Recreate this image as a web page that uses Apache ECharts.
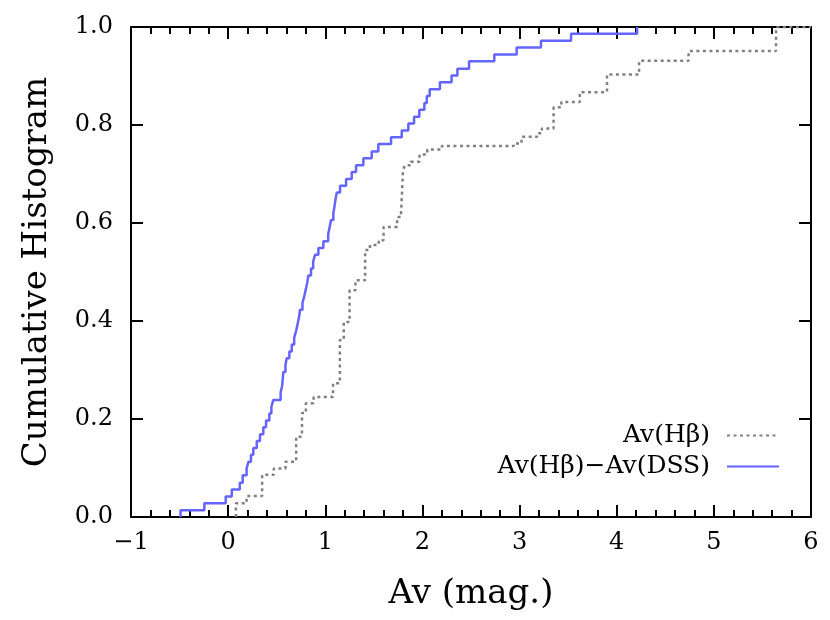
<!DOCTYPE html>
<html>
<head>
<meta charset="utf-8">
<script src="https://cdn.jsdelivr.net/npm/echarts@6/dist/echarts.min.js"></script>
<style>
  html, body { margin: 0; padding: 0; background: #fff; }
  #chart { width: 830px; height: 620px; }
</style>
</head>
<body>
<div id="chart"></div>
<script>
// Av(Hb) - Av(DSS): step positions and cumulative fraction after each step
var blueX = [-0.49, -0.245, -0.025, 0.037, 0.12, 0.15, 0.19, 0.21, 0.235, 0.259,
  0.295, 0.328, 0.362, 0.39, 0.424, 0.445, 0.465, 0.54, 0.556, 0.562,
  0.568, 0.59, 0.603, 0.63, 0.655, 0.68, 0.70, 0.715, 0.73, 0.74,
  0.765, 0.784, 0.80, 0.815, 0.826, 0.853, 0.875, 0.895, 0.929, 0.98,
  1.03, 1.045, 1.059, 1.083, 1.095, 1.105, 1.118, 1.152, 1.214, 1.272,
  1.317, 1.392, 1.478, 1.546, 1.677, 1.787, 1.855, 1.914, 1.968, 2.02,
  2.045, 2.075, 2.18, 2.30, 2.36, 2.48, 2.74, 2.97, 3.22, 3.53, 4.21]
var blueY = [0.014, 0.028, 0.042, 0.056, 0.070, 0.085, 0.099, 0.113, 0.127, 0.141,
  0.155, 0.169, 0.183, 0.197, 0.211, 0.225, 0.239, 0.254, 0.268, 0.282,
  0.296, 0.310, 0.324, 0.338, 0.352, 0.366, 0.380, 0.394, 0.408, 0.423,
  0.437, 0.451, 0.465, 0.479, 0.493, 0.507, 0.521, 0.535, 0.549, 0.563,
  0.577, 0.592, 0.606, 0.620, 0.634, 0.648, 0.662, 0.676, 0.690, 0.704,
  0.718, 0.732, 0.746, 0.761, 0.775, 0.789, 0.803, 0.817, 0.831, 0.845,
  0.859, 0.873, 0.887, 0.901, 0.915, 0.930, 0.944, 0.958, 0.972, 0.986, 1.000]

// Av(Hb)
var grayX = [0.08, 0.08, 0.19, 0.35, 0.47, 0.59, 0.70, 0.76, 0.80, 0.88,
  1.08, 1.15, 1.19, 1.25, 1.31, 1.41, 1.46, 1.55, 1.60, 1.74,
  1.78, 1.80, 1.82, 1.88, 1.97, 2.05, 2.20, 2.94, 3.02, 3.18,
  3.23, 3.35, 3.43, 3.62, 3.90, 4.23, 4.74, 5.64, 6.0]
var grayY = [0.0, 0.028, 0.043, 0.086, 0.099, 0.113, 0.164, 0.212, 0.232, 0.245,
  0.273, 0.361, 0.398, 0.463, 0.483, 0.545, 0.555, 0.565, 0.592, 0.612,
  0.619, 0.708, 0.718, 0.725, 0.740, 0.750, 0.757, 0.762, 0.776, 0.783,
  0.793, 0.836, 0.847, 0.867, 0.903, 0.931, 0.951, 1.0, 1.0]

var blueData = [[blueX[0], 0]]
for (var i = 0; i < blueX.length; i++) blueData.push([blueX[i], blueY[i]])
var grayData = []
for (var j = 0; j < grayX.length; j++) grayData.push([grayX[j], grayY[j]])

var font = 'DejaVu Serif'
var black = { color: '#000', width: 2 }

var chart = echarts.init(document.getElementById('chart'))
chart.setOption({
  animation: false,
  backgroundColor: '#fff',
  grid: { left: 131, right: 19, top: 27, bottom: 103 },
  legend: {
    orient: 'vertical',
    right: 45,
    top: 418,
    align: 'right',
    itemWidth: 52,
    itemHeight: 14,
    itemGap: 6,
    itemStyle: { opacity: 0 },
    textStyle: { fontFamily: font, fontSize: 25, lineHeight: 25, color: '#000', padding: [0, 12, 0, 0] },
    data: ['Av(Hβ)', 'Av(Hβ)−Av(DSS)']
  },
  xAxis: [{
    type: 'value',
    min: -1,
    max: 6,
    interval: 1,
    name: 'Av (mag.)',
    nameLocation: 'middle',
    nameGap: 60,
    nameTextStyle: { fontFamily: font, fontSize: 34, color: '#000' },
    axisLine: { onZero: false, lineStyle: black },
    axisTick: { inside: true, length: 12, lineStyle: black },
    minorTick: { show: true, splitNumber: 5, length: 7, lineStyle: black },
    axisLabel: {
      fontFamily: font, fontSize: 24, color: '#000', margin: 14,
      formatter: function (v) { return String(v).replace('-', '−') }
    },
    splitLine: { show: false }
  }, {
    type: 'value',
    position: 'top',
    min: -1,
    max: 6,
    interval: 1,
    axisLine: { onZero: false, lineStyle: black },
    axisTick: { inside: true, length: 12, lineStyle: black },
    minorTick: { show: true, splitNumber: 5, length: 7, lineStyle: black },
    axisLabel: { show: false },
    splitLine: { show: false }
  }],
  yAxis: [{
    type: 'value',
    min: 0,
    max: 1,
    interval: 0.2,
    name: 'Cumulative Histogram',
    nameLocation: 'middle',
    nameGap: 77,
    nameTextStyle: { fontFamily: font, fontSize: 34, color: '#000' },
    axisLine: { show: true, onZero: false, lineStyle: black },
    axisTick: { show: true, inside: true, length: 12, lineStyle: black },
    axisLabel: {
      fontFamily: font, fontSize: 24, color: '#000', margin: 18,
      formatter: function (v) { return v.toFixed(1) }
    },
    splitLine: { show: false }
  }, {
    type: 'value',
    position: 'right',
    min: 0,
    max: 1,
    interval: 0.2,
    axisLine: { show: true, onZero: false, lineStyle: black },
    axisTick: { show: true, inside: true, length: 12, lineStyle: black },
    axisLabel: { show: false },
    splitLine: { show: false }
  }],
  series: [{
    name: 'Av(Hβ)',
    type: 'line',
    step: 'end',
    symbol: 'none',
    data: grayData,
    color: '#808080',
    lineStyle: { color: '#808080', width: 2.5, type: [3, 3.5] },
    z: 2
  }, {
    name: 'Av(Hβ)−Av(DSS)',
    type: 'line',
    step: 'end',
    symbol: 'none',
    data: blueData,
    color: '#6464ff',
    lineStyle: { color: '#6464ff', width: 2.5 },
    z: 3
  }]
})
</script>
</body>
</html>
